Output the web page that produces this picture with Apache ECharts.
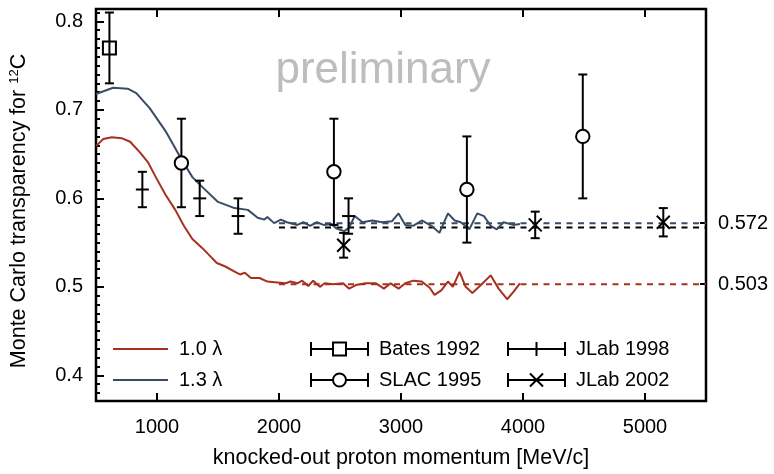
<!DOCTYPE html>
<html>
<head>
<meta charset="utf-8">
<script src="https://cdn.jsdelivr.net/npm/echarts@6/dist/echarts.min.js"></script>
<style>
  html, body { margin: 0; padding: 0; background: #fff; }
  #chart { width: 774px; height: 474px; }
</style>
</head>
<body>
<div id="chart"></div>
<script>
// Monte Carlo transparency curves, [momentum MeV/c, transparency]
const curve10 = [
  [500, 0.659], [560, 0.667], [630, 0.669], [710, 0.668], [780, 0.664], [860, 0.652],
  [925, 0.641], [990, 0.624], [1070, 0.604], [1150, 0.587], [1220, 0.569], [1290, 0.554],
  [1370, 0.544], [1420, 0.537], [1490, 0.527], [1560, 0.523], [1640, 0.517], [1680, 0.514],
  [1720, 0.516], [1770, 0.510], [1840, 0.510], [1905, 0.506], [1985, 0.505], [2055, 0.504],
  [2095, 0.506], [2150, 0.504], [2190, 0.507], [2240, 0.501], [2280, 0.507], [2335, 0.500],
  [2375, 0.504], [2445, 0.503], [2525, 0.504], [2575, 0.498], [2630, 0.502], [2710, 0.504],
  [2795, 0.504], [2860, 0.498], [2915, 0.504], [2980, 0.498], [3035, 0.504], [3100, 0.507],
  [3170, 0.506], [3235, 0.499], [3275, 0.491], [3330, 0.496], [3385, 0.506], [3425, 0.500],
  [3480, 0.517], [3530, 0.500], [3585, 0.493], [3655, 0.502], [3735, 0.513], [3800, 0.498],
  [3870, 0.486], [3920, 0.494], [3975, 0.504]
]
const curve13 = [
  [500, 0.718], [640, 0.725], [760, 0.724], [830, 0.719], [940, 0.702], [1070, 0.676],
  [1205, 0.643], [1290, 0.624], [1370, 0.613], [1500, 0.596], [1635, 0.589], [1745, 0.587],
  [1825, 0.578], [1880, 0.576], [1905, 0.579], [1960, 0.572], [2015, 0.576], [2065, 0.573],
  [2150, 0.570], [2200, 0.573], [2255, 0.569], [2310, 0.573], [2365, 0.570], [2430, 0.571],
  [2470, 0.566], [2535, 0.563], [2575, 0.567], [2620, 0.580], [2685, 0.573], [2765, 0.575],
  [2845, 0.573], [2925, 0.574], [2980, 0.583], [3035, 0.570], [3100, 0.569], [3170, 0.575],
  [3250, 0.569], [3315, 0.561], [3385, 0.583], [3440, 0.575], [3490, 0.573], [3560, 0.565],
  [3625, 0.583], [3680, 0.580], [3735, 0.569], [3785, 0.565], [3840, 0.573], [3920, 0.570],
  [3975, 0.571]
]

// measurements, [momentum, transparency, error]
const bates1992 = [[610, 0.77, 0.04]]
const slac1995 = [[1200, 0.64, 0.05], [2450, 0.63, 0.06], [3540, 0.61, 0.06], [4490, 0.67, 0.07]]
const jlab1998 = [[880, 0.61, 0.02], [1350, 0.60, 0.02], [1665, 0.58, 0.02], [2570, 0.58, 0.02]]
const jlab2002 = [[2530, 0.547, 0.014], [4100, 0.57, 0.015], [5150, 0.573, 0.016]]

// asymptotic levels (dashed)
const fitRange = [2000, 5500]
const fit10 = 0.503
const fit13 = 0.572
const fitData = 0.567

const xTicks = [1000, 2000, 3000, 4000, 5000]
const yTicks = [0.4, 0.5, 0.6, 0.7, 0.8]
const rightTicks = [0.503, 0.572]

const xMin = 500
const xMax = 5500
const yMin = 0.371
const yMax = 0.814

const red = '#a8301f'
const slate = '#3a4c64'
const font = 'Liberation Sans, Arial, Helvetica, sans-serif'

const yMinorTicks = []
for (let i = 38; i <= 81; i++) yMinorTicks.push(i / 100)

function errorBars(marker) {
  return function (params, api) {
    const x = api.value(0)
    const y = api.value(1)
    const e = api.value(2)
    const c = api.coord([x, y])
    const hi = api.coord([x, y + e])
    const lo = api.coord([x, y - e])
    const cap = 4.5
    const style = { stroke: '#000', lineWidth: 2, fill: 'none' }
    const children = [
      { type: 'line', shape: { x1: c[0], y1: hi[1], x2: c[0], y2: lo[1] }, style },
      { type: 'line', shape: { x1: c[0] - cap, y1: hi[1], x2: c[0] + cap, y2: hi[1] }, style },
      { type: 'line', shape: { x1: c[0] - cap, y1: lo[1], x2: c[0] + cap, y2: lo[1] }, style },
    ]
    if (marker === 'square') {
      children.push({ type: 'rect', shape: { x: c[0] - 6.5, y: c[1] - 6.5, width: 13, height: 13 }, style })
    } else if (marker === 'circle') {
      children.push({ type: 'circle', shape: { cx: c[0], cy: c[1], r: 6.7 }, style: { stroke: '#000', lineWidth: 2, fill: '#fff' } })
    } else if (marker === 'plus') {
      children.push({ type: 'line', shape: { x1: c[0] - 6.5, y1: c[1], x2: c[0] + 6.5, y2: c[1] }, style })
    } else {
      const s = 6.5
      children.push({ type: 'line', shape: { x1: c[0] - s, y1: c[1] - s, x2: c[0] + s, y2: c[1] + s }, style })
      children.push({ type: 'line', shape: { x1: c[0] - s, y1: c[1] + s, x2: c[0] + s, y2: c[1] - s }, style })
    }
    return { type: 'group', children }
  }
}

function level(value) {
  return [[fitRange[0], value], [fitRange[1], value]]
}

const iconLine = 'path://M0,6L55,6L55,8L0,8Z'
const iconBates = 'path://M0,0L0,14M0,7L22,7M22,0.5L35,0.5L35,13.5L22,13.5ZM35,7L57,7M57,0L57,14'
const iconSlac = 'path://M0,0L0,14M0,7L22,7M22,7A6.5,6.5,0,1,1,35,7A6.5,6.5,0,1,1,22,7M35,7L57,7M57,0L57,14'
const iconJlab98 = 'path://M0,0L0,14M0,7L57,7M57,0L57,14M28.5,0L28.5,14'
const iconJlab02 = 'path://M0,0L0,14M0,7L57,7M57,0L57,14M22,0.5L35,13.5M22,13.5L35,0.5'

const textStyle = { fontFamily: font, fontSize: 20, color: '#000' }
const tickStyle = { color: '#000', width: 2 }

const legendBase = {
  orient: 'vertical',
  top: 339,
  padding: 0,
  itemGap: 11,
  itemHeight: 14,
  selectedMode: false,
  textStyle: { ...textStyle, lineHeight: 20, padding: [0, 0, 0, 6] },
}

const myChart = echarts.init(document.getElementById('chart'), null, { renderer: 'canvas' })

myChart.setOption({
  animation: false,
  backgroundColor: '#fff',
  grid: {
    left: 85,
    right: 68,
    top: 9,
    bottom: 66,
    show: true,
    borderColor: '#000',
    borderWidth: 2.5,
  },
  legend: [
    {
      ...legendBase,
      left: 113,
      itemWidth: 55,
      data: [{ name: '1.0 λ', icon: iconLine }, { name: '1.3 λ', icon: iconLine }],
    },
    {
      ...legendBase,
      left: 310,
      itemWidth: 57,
      itemStyle: { color: 'rgba(0,0,0,0)', borderColor: '#000', borderWidth: 2 },
      data: [{ name: 'Bates 1992', icon: iconBates }, { name: 'SLAC 1995', icon: iconSlac }],
    },
    {
      ...legendBase,
      left: 507,
      itemWidth: 57,
      itemStyle: { color: 'rgba(0,0,0,0)', borderColor: '#000', borderWidth: 2 },
      data: [{ name: 'JLab 1998', icon: iconJlab98 }, { name: 'JLab 2002', icon: iconJlab02 }],
    },
  ],
  graphic: [
    {
      type: 'text',
      x: 383,
      y: 71,
      silent: true,
      style: {
        text: 'preliminary',
        fontFamily: font,
        fontSize: 44,
        fill: '#bdbdbd',
        align: 'center',
        verticalAlign: 'middle',
      },
    },
  ],
  xAxis: [
    {
      type: 'value',
      position: 'bottom',
      min: xMin,
      max: xMax,
      axisLine: { show: false },
      splitLine: { show: false },
      axisTick: { inside: true, length: 8, lineStyle: tickStyle, customValues: xTicks },
      axisLabel: { ...textStyle, margin: 16, customValues: xTicks, formatter: (v) => String(v) },
      name: 'knocked-out proton momentum [MeV/c]',
      nameLocation: 'middle',
      nameGap: 46,
      nameTextStyle: { ...textStyle, fontSize: 21.5 },
    },
    {
      type: 'value',
      position: 'top',
      min: xMin,
      max: xMax,
      axisLine: { show: false },
      splitLine: { show: false },
      axisTick: { inside: true, length: 8, lineStyle: tickStyle, customValues: xTicks },
      axisLabel: { show: false },
    },
  ],
  yAxis: [
    {
      type: 'value',
      position: 'left',
      min: yMin,
      max: yMax,
      axisLine: { show: false },
      splitLine: { show: false },
      axisTick: { inside: true, length: 8, lineStyle: tickStyle, customValues: yTicks },
      axisLabel: { ...textStyle, margin: 13, customValues: yTicks, formatter: (v) => v.toFixed(1) },
      name: 'Monte Carlo transparency for {sup|12}C',
      nameLocation: 'middle',
      nameGap: 65,
      nameTextStyle: {
        ...textStyle,
        fontSize: 21.5,
        padding: [0, 12, 0, 0],
        rich: {
          sup: { fontFamily: font, fontSize: 13, color: '#000', padding: [0, 0, 10, 0] },
        },
      },
    },
    {
      type: 'value',
      position: 'left',
      min: yMin,
      max: yMax,
      axisLine: { show: false },
      splitLine: { show: false },
      axisTick: { inside: true, length: 4, lineStyle: tickStyle, customValues: yMinorTicks },
      axisLabel: { show: false },
    },
    {
      type: 'value',
      position: 'right',
      min: yMin,
      max: yMax,
      axisLine: { show: false },
      splitLine: { show: false },
      axisTick: { inside: true, length: 6, lineStyle: tickStyle, customValues: rightTicks },
      axisLabel: { ...textStyle, margin: 12, customValues: rightTicks, formatter: (v) => v.toFixed(3) },
    },
  ],
  series: [
    {
      name: 'fit 1.0',
      type: 'line',
      data: level(fit10),
      symbol: 'none',
      silent: true,
      lineStyle: { color: red, width: 2, type: [6, 5.5] },
      z: 1,
    },
    {
      name: 'fit 1.3',
      type: 'line',
      data: level(fit13),
      symbol: 'none',
      silent: true,
      lineStyle: { color: slate, width: 2, type: [6, 5.5] },
      z: 1,
    },
    {
      name: 'fit data',
      type: 'line',
      data: level(fitData),
      symbol: 'none',
      silent: true,
      lineStyle: { color: '#000', width: 2, type: [6, 5.5] },
      z: 1,
    },
    {
      name: '1.0 λ',
      type: 'line',
      data: curve10,
      symbol: 'none',
      color: red,
      lineStyle: { color: red, width: 2 },
      z: 2,
    },
    {
      name: '1.3 λ',
      type: 'line',
      data: curve13,
      symbol: 'none',
      color: slate,
      lineStyle: { color: slate, width: 2 },
      z: 2,
    },
    { name: 'Bates 1992', type: 'custom', color: '#000', data: bates1992, renderItem: errorBars('square'), z: 3 },
    { name: 'SLAC 1995', type: 'custom', color: '#000', data: slac1995, renderItem: errorBars('circle'), z: 3 },
    { name: 'JLab 1998', type: 'custom', color: '#000', data: jlab1998, renderItem: errorBars('plus'), z: 3 },
    { name: 'JLab 2002', type: 'custom', color: '#000', data: jlab2002, renderItem: errorBars('cross'), z: 3 },
  ],
})
</script>
</body>
</html>
